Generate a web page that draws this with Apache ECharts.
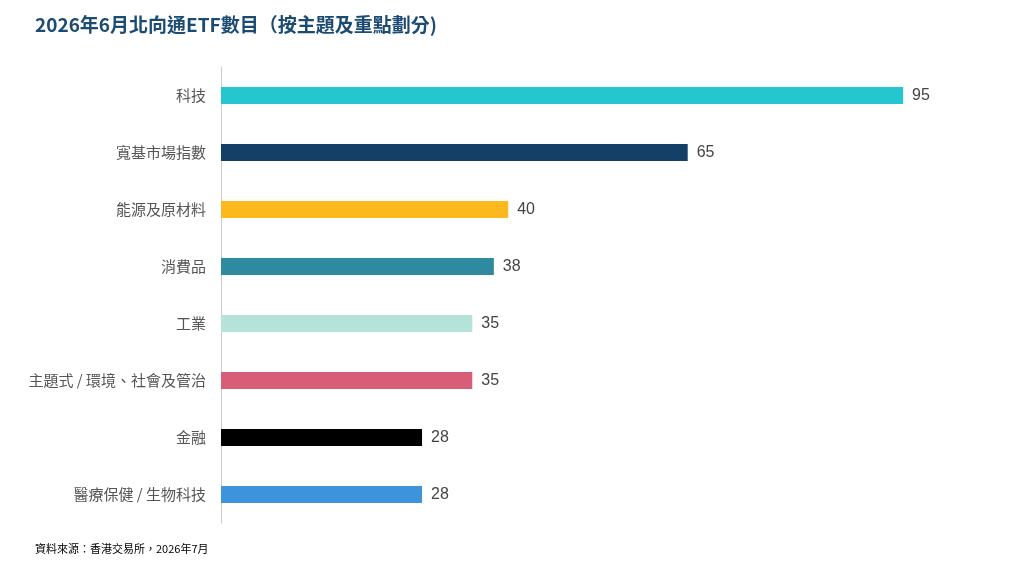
<!DOCTYPE html>
<html><head><meta charset="utf-8">
<script src="https://cdn.jsdelivr.net/npm/echarts@6/dist/echarts.min.js"></script>
<style>html,body{margin:0;background:#fff}#c{width:1027px;height:570px}</style>
</head><body><div id="c"></div>
<script>
const categories = ["科技","寬基市場指數","能源及原材料","消費品","工業","主題式 / 環境、社會及管治","金融","醫療保健 / 生物科技"];
const values = [95,65,40,38,35,35,28,28];
const colors = ["#26C6D0","#143F66","#FDB81E","#2E8A9E","#B5E3D8","#D65E76","#000000","#3E94DC"];
const chart = echarts.init(document.getElementById('c'));
const font = '"Noto Sans CJK TC", "Liberation Sans", sans-serif';
chart.setOption({
  animation:false,
  title:[{text:"2026年6月北向通ETF數目（按主題及重點劃分)",left:30,top:10,textStyle:{fontFamily:font,fontSize:19,fontWeight:'bold',color:'#1B4B73'}},
         {text:"資料來源：香港交易所，2026年7月",left:30,top:538,textStyle:{fontFamily:font,fontSize:11,fontWeight:'normal',color:'#000'}}],
  grid:{left:221,top:67,width:718,height:456},
  xAxis:{type:'value',min:0,max:100,show:false},
  yAxis:{type:'category',inverse:true,data:categories,
    axisLine:{lineStyle:{color:'#ccc'}},axisTick:{show:false},
    axisLabel:{fontFamily:font,fontSize:15,color:'#555',margin:15,width:200,overflow:'truncate',ellipsis:'...'}},
  series:[{type:'bar',barWidth:17,
    data:values.map((v,i)=>({value:v,itemStyle:{color:colors[i]}})),
    label:{show:true,position:'right',distance:9,fontFamily:'"Liberation Sans", sans-serif',fontSize:16,color:'#444'}}]
});
</script></body></html>
